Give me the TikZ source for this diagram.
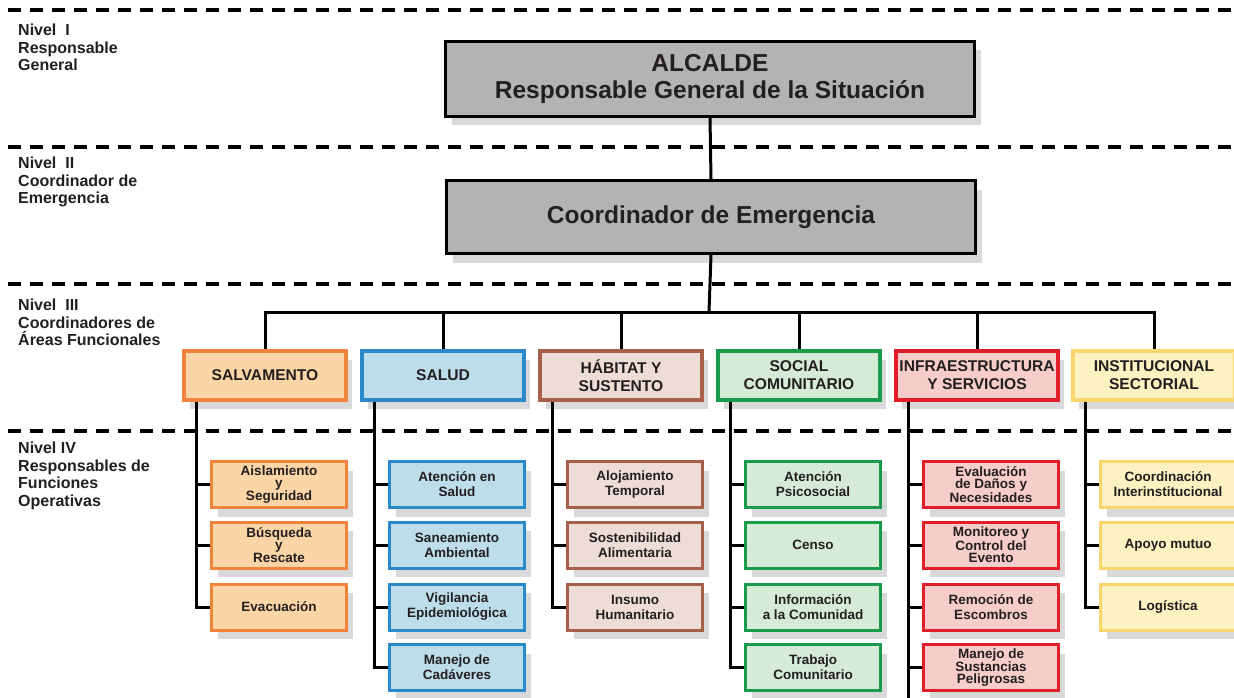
\documentclass[tikz,border=0pt]{standalone}
\usepackage{fontspec}
\setmainfont{Liberation Sans}
\usetikzlibrary{shadows}
\definecolor{txt}{HTML}{231F20}
\definecolor{grayfill}{HTML}{B3B3B4}
\definecolor{oB}{HTML}{F0843C}\definecolor{oF}{HTML}{FBD5A6}
\definecolor{bB}{HTML}{2A8AC9}\definecolor{bF}{HTML}{BEDDEA}
\definecolor{hB}{HTML}{A6604A}\definecolor{hF}{HTML}{EEDDD7}
\definecolor{gB}{HTML}{1A9A4B}\definecolor{gF}{HTML}{D6EBD7}
\definecolor{rB}{HTML}{E11F2B}\definecolor{rF}{HTML}{F6CDC8}
\definecolor{yB}{HTML}{F9D56E}\definecolor{yF}{HTML}{FBF1C1}
\tikzset{
  shad/.style={drop shadow={shadow xshift=6pt, shadow yshift=-9pt, opacity=0.15, fill=black}},
  topbox/.style={draw=black, line width=3pt, fill=grayfill, shad, align=center, text=txt,
    minimum width=529, inner sep=0pt, font=\fontsize{24.5}{27}\selectfont\bfseries},
  lthree/.style={line width=4pt, shad, align=center, text=txt, inner sep=0pt,
    minimum width=162, minimum height=49, font=\fontsize{15.6}{18}\selectfont\bfseries},
  lfour/.style={line width=3pt, shad, align=center, text=txt, inner sep=0pt,
    minimum width=135, minimum height=46, font=\fontsize{13.5}{15}\selectfont\bfseries},
  tight/.style={font=\fontsize{13.5}{12.3}\selectfont\bfseries},
  orangeS/.style={draw=oB, fill=oF}, blueS/.style={draw=bB, fill=bF},
  brownS/.style={draw=hB, fill=hF}, greenS/.style={draw=gB, fill=gF},
  redS/.style={draw=rB, fill=rF}, yellowS/.style={draw=yB, fill=yF},
  conn/.style={draw=black, line width=3pt},
  sepline/.style={draw=black, line width=3.5pt, dash pattern=on 13pt off 9pt},
  lvl/.style={anchor=north west, align=left, text=txt, inner sep=0pt,
    font=\fontsize{16}{17.5}\selectfont\bfseries}
}
\begin{document}
\begin{tikzpicture}[x=1pt,y=-1pt]
\useasboundingbox[fill=white] (0,0) rectangle (1234,698);
% separators
\draw[sepline] (8,10) -- (1234,10);
\draw[sepline] (8,147) -- (1234,147);
\draw[sepline] (8,284) -- (1234,284);
\draw[sepline] (8,431) -- (1234,431);
% level labels
\node[lvl] (n1) at (18,24) {Nivel\ \ I\\Responsable\\General};
\node[lvl] (n2) at (18,157) {Nivel\ \ II\\Coordinador de\\Emergencia};
\node[lvl] (n3) at (18,299) {Nivel\ \ III\\Coordinadores de\\Áreas Funcionales};
\node[lvl] (n4) at (18,442) {Nivel IV\\Responsables de\\Funciones\\Operativas};
% top boxes
\node[topbox, minimum height=75] (alc) at (710,79) {ALCALDE\\Responsable General de la Situación};
\node[topbox, minimum height=73] (coo) at (711,217) {Coordinador de Emergencia};
\coordinate (bus) at (709,312);
% level III
\node[lthree, orangeS] (p1) at (265,375.5) {SALVAMENTO};
\node[lthree, blueS]   (p2) at (443,375.5) {SALUD};
\node[lthree, brownS]  (p3) at (621,375.5) {HÁBITAT Y\\SUSTENTO};
\node[lthree, greenS]  (p4) at (799,375.5) {SOCIAL\\COMUNITARIO};
\node[lthree, redS]    (p5) at (977,375.5) {INFRAESTRUCTURA\\Y SERVICIOS};
\node[lthree, yellowS] (p6) at (1154,375.5) {INSTITUCIONAL\\SECTORIAL};
% level IV
\node[lfour, orangeS, tight] (a1) at (279,484.5) {Aislamiento\\y\\Seguridad};
\node[lfour, orangeS, tight] (a2) at (279,545) {Búsqueda\\y\\Rescate};
\node[lfour, orangeS] (a3) at (279,607) {Evacuación};
\node[lfour, blueS] (b1) at (457,484.5) {Atención en\\Salud};
\node[lfour, blueS] (b2) at (457,545) {Saneamiento\\Ambiental};
\node[lfour, blueS] (b3) at (457,607) {Vigilancia\\Epidemiológica};
\node[lfour, blueS] (b4) at (457,667.5) {Manejo de\\Cadáveres};
\node[lfour, brownS] (c1) at (635,484.5) {Alojamiento\\Temporal};
\node[lfour, brownS] (c2) at (635,545) {Sostenibilidad\\Alimentaria};
\node[lfour, brownS] (c3) at (635,607) {Insumo\\Humanitario};
\node[lfour, greenS] (d1) at (813,484.5) {Atención\\Psicosocial};
\node[lfour, greenS] (d2) at (813,545) {Censo};
\node[lfour, greenS] (d3) at (813,607) {Información\\a la Comunidad};
\node[lfour, greenS] (d4) at (813,667.5) {Trabajo\\Comunitario};
\node[lfour, redS, tight] (e1) at (991,484.5) {Evaluación\\de Daños y\\Necesidades};
\node[lfour, redS, tight] (e2) at (991,545) {Monitoreo y\\Control del\\Evento};
\node[lfour, redS] (e3) at (991,607) {Remoción de\\Escombros};
\node[lfour, redS, tight] (e4) at (991,667.5) {Manejo de\\Sustancias\\Peligrosas};
\node[lfour, yellowS] (f1) at (1168,484.5) {Coordinación\\Interinstitucional};
\node[lfour, yellowS] (f2) at (1168,545) {Apoyo mutuo};
\node[lfour, yellowS] (f3) at (1168,607) {Logística};
\coordinate (eend) at (908,700);
% connectors
\draw[conn] (alc.south) -- (coo.north);
\draw[conn] (coo.south) -- (bus);
\draw[conn] (p1.north) |- (bus) -| (p6.north);
\foreach \p in {p2,p3,p4,p5} \draw[conn] (\p.north) -- (\p.north |- bus);
\draw[conn] ([xshift=14pt]p1.south west) |- (a3.west);
\draw[conn] ([xshift=14pt]p2.south west) |- (b4.west);
\draw[conn] ([xshift=14pt]p3.south west) |- (c3.west);
\draw[conn] ([xshift=14pt]p4.south west) |- (d4.west);
\draw[conn] ([xshift=14pt]p5.south west) -- (eend);
\draw[conn] ([xshift=14pt]p6.south west) |- (f3.west);
\foreach \c in {a1,a2,b1,b2,b3,c1,c2,d1,d2,d3,e1,e2,e3,e4,f1,f2}
  \draw[conn] (\c.west) -- ++(-15.5,0);
\end{tikzpicture}
\end{document}
